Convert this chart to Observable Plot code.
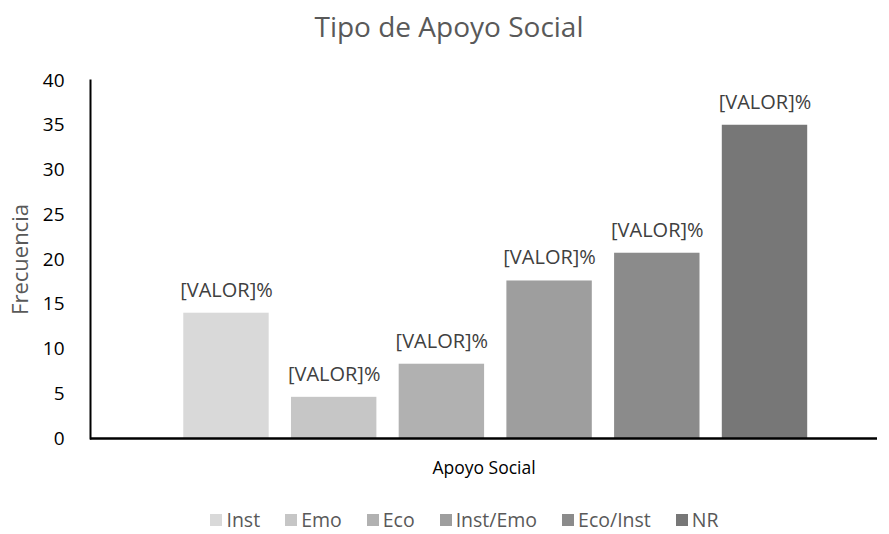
<!DOCTYPE html>
<html>
<head>
<meta charset="utf-8">
<script src="https://cdn.jsdelivr.net/npm/d3@7"></script>
<script src="https://cdn.jsdelivr.net/npm/@observablehq/plot@0.6"></script>
<style>
  html, body { margin: 0; padding: 0; background: #fff; }
  #wrap { position: relative; width: 889px; height: 534px; overflow: hidden; font-family: "Open Sans", sans-serif; }
  #chart { position: absolute; left: 0; top: 0; }
  #legend { position: absolute; left: 20px; width: 889px; top: 506px; display: flex; justify-content: center; gap: 25px; font-size: 19.5px; color: #595959; }
  .item { display: flex; align-items: center; gap: 4px; }
  .sw { width: 12px; height: 12px; display: inline-block; }
</style>
</head>
<body>
<div id="wrap">
  <div id="chart"></div>
  <div id="legend"></div>
</div>
<script>
const categories = ["Inst", "Emo", "Eco", "Inst/Emo", "Eco/Inst", "NR"];
const values = [14.0, 4.6, 8.3, 17.6, 20.7, 35.0];
const valueLabels = ["[VALOR]%", "[VALOR]%", "[VALOR]%", "[VALOR]%", "[VALOR]%", "[VALOR]%"];
const colors = ["#d9d9d9", "#c6c6c6", "#b1b1b1", "#9e9e9e", "#8b8b8b", "#777777"];
const yTicks = [0, 5, 10, 15, 20, 25, 30, 35, 40];
const chartTitle = "Tipo de Apoyo Social";
const xTitle = "Apoyo Social";
const yTitle = "Frecuencia";

const data = categories.map((c, i) => ({cat: c, value: values[i], label: valueLabels[i]}));

const plot = Plot.plot({
  width: 889,
  height: 534,
  marginTop: 80,
  marginBottom: 96,
  marginLeft: 90,
  marginRight: 12,
  style: {fontFamily: "Open Sans, sans-serif", background: "#fff", overflow: "visible"},
  x: {domain: categories, paddingInner: 0.207, paddingOuter: 0.757, align: 0.572, round: false, axis: null},
  y: {domain: [0, 40], ticks: yTicks},
  color: {domain: categories, range: colors},
  marks: [
    Plot.barY(data, {x: "cat", y: "value", fill: "cat"}),
    Plot.text(data, {x: "cat", y: "value", text: "label", dy: -23, fontSize: 20, fill: "#404040"}),
    Plot.axisY({ticks: yTicks, tickSize: 0, tickPadding: 26, fontSize: 19, color: "#000", label: null}),
    Plot.frame({anchor: "left", stroke: "#000", strokeWidth: 2}),
    Plot.ruleY([0], {stroke: "#000", strokeWidth: 2.5}),
    Plot.text([chartTitle], {frameAnchor: "top", lineAnchor: "middle", dy: -52, dx: -35, fontSize: 28, fill: "#595959"}),
    Plot.text([xTitle], {frameAnchor: "bottom", lineAnchor: "middle", dy: 30, fontSize: 17.5, fill: "#000"}),
    Plot.text([yTitle], {frameAnchor: "left", textAnchor: "middle", lineAnchor: "middle", dx: -70, rotate: -90, fontSize: 22, fill: "#595959"})
  ]
});
document.getElementById("chart").appendChild(plot);

const legend = document.getElementById("legend");
categories.forEach((c, i) => {
  const item = document.createElement("div");
  item.className = "item";
  const sw = document.createElement("span");
  sw.className = "sw";
  sw.style.background = colors[i];
  const t = document.createElement("span");
  t.textContent = c;
  item.appendChild(sw);
  item.appendChild(t);
  legend.appendChild(item);
});
</script>
</body>
</html>
